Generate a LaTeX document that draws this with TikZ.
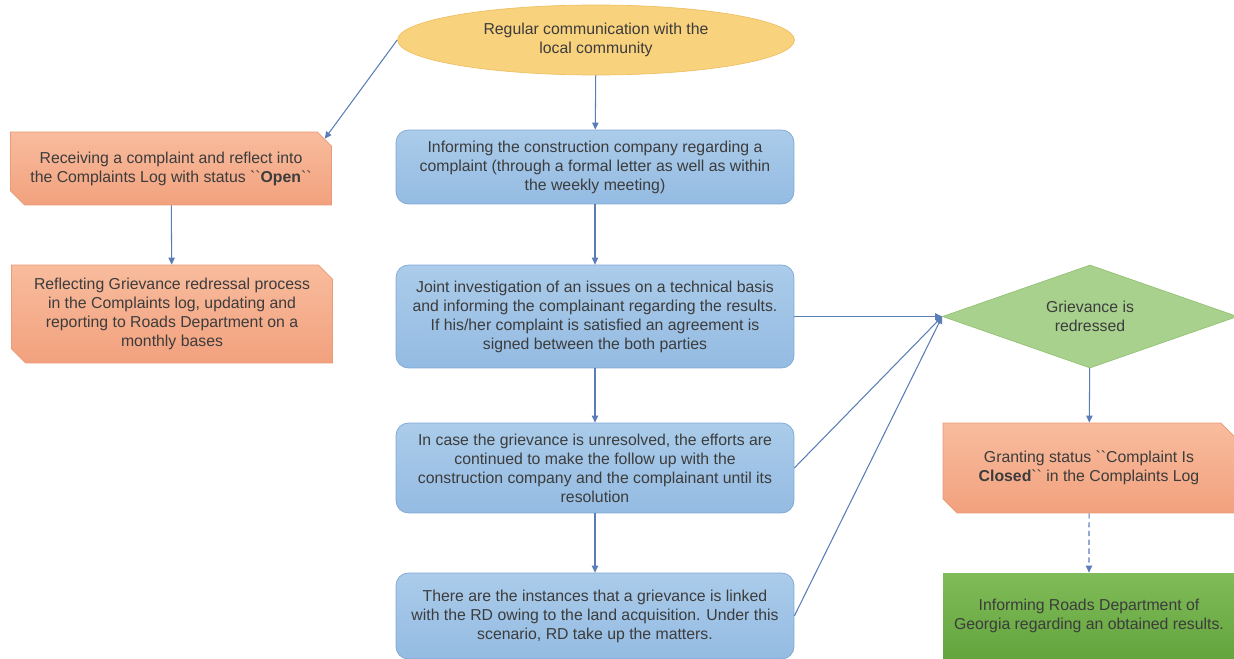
\documentclass[tikz,border=0pt]{standalone}
\usepackage{fontspec}
\setmainfont{Liberation Sans}
\usetikzlibrary{shapes.geometric,shapes.misc,arrows.meta}

\definecolor{txtgray}{HTML}{3C3C3C}
\definecolor{linkblue}{HTML}{5A7DB8}
\definecolor{bluetop}{HTML}{ABCCEA}
\definecolor{bluebot}{HTML}{94BBE2}
\definecolor{blueline}{HTML}{7FA6D4}
\definecolor{salmtop}{HTML}{F8BC9D}
\definecolor{salmbot}{HTML}{F2A17E}
\definecolor{salmline}{HTML}{E99A76}
\definecolor{sunfill}{HTML}{F9D27E}
\definecolor{sunline}{HTML}{EEC064}
\definecolor{leaf}{HTML}{A9D18E}
\definecolor{leafline}{HTML}{92C274}
\definecolor{grasstop}{HTML}{80BC58}
\definecolor{grassbot}{HTML}{63A43D}

\tikzset{
  every node/.style={font=\fontsize{9}{10.8}\selectfont,text=txtgray,align=center},
  talk/.style={ellipse,draw=sunline,fill=sunfill,minimum width=7.94cm,minimum height=1.4cm},
  bluebox/.style={rectangle,rounded corners=7pt,draw=blueline,top color=bluetop,bottom color=bluebot,minimum width=7.96cm},
  logbox/.style={chamfered rectangle,chamfered rectangle corners={north east,south west},
    chamfered rectangle xsep=0.14cm,chamfered rectangle ysep=0.14cm,draw=salmline,
    top color=salmtop,bottom color=salmbot},
  check/.style={diamond,draw=leafline,fill=leaf,aspect=2.85,minimum width=5.9cm,minimum height=2.06cm,inner sep=0pt},
  donebox/.style={rectangle,top color=grasstop,bottom color=grassbot,minimum width=5.84cm},
  link/.style={draw=linkblue,line width=0.6pt,-{Triangle[length=4pt,width=3.6pt]}}
}

\begin{document}
\begin{tikzpicture}[x=0.02cm,y=-0.02cm]
  \useasboundingbox (0,0) rectangle (1234,659);
  \node[talk] (comm) at (596,40) {Regular communication with the\\local community};
  \node[bluebox,minimum height=1.48cm] (inform) at (595,167)
    {Informing the construction company regarding a\\complaint (through a formal letter as well as within\\the weekly meeting)};
  \node[bluebox,minimum height=2.06cm] (joint) at (595,316.5)
    {Joint investigation of an issues on a technical basis\\and informing the complainant regarding the results.\\If his/her complaint is satisfied an agreement is\\signed between the both parties};
  \node[bluebox,minimum height=1.8cm] (unres) at (595,468)
    {In case the grievance is unresolved, the efforts are\\continued to make the follow up with the\\construction company and the complainant until its\\resolution};
  \node[bluebox,minimum height=1.72cm] (rdcase) at (595,616)
    {There are the instances that a grievance is linked\\with the RD owing to the land acquisition. Under this\\scenario, RD take up the matters.};
  \node[logbox,minimum width=6.42cm,minimum height=1.46cm] (recv) at (171,168.5)
    {Receiving a complaint and reflect into\\the Complaints Log with status \textasciigrave\textasciigrave\textbf{Open}\textasciigrave\textasciigrave};
  \node[logbox,minimum width=6.42cm,minimum height=1.96cm] (reflect) at (172,314)
    {Reflecting Grievance redressal process\\in the Complaints log, updating and\\reporting to Roads Department on a\\monthly bases};
  \node[check] (redr) at (1090,316.5) {Grievance is\\redressed};
  \node[logbox,minimum width=5.84cm,minimum height=1.8cm] (closed) at (1089,468)
    {Granting status \textasciigrave\textasciigrave Complaint Is\\\textbf{Closed}\textasciigrave\textasciigrave\ in the Complaints Log};
  \node[donebox,minimum height=1.72cm] (georgia) at (1089,616)
    {Informing Roads Department of\\Georgia regarding an obtained results.};

  \draw[link] (comm) -- (inform);
  \draw[link] (inform) -- (joint);
  \draw[link] (joint) -- (unres);
  \draw[link] (unres) -- (rdcase);
  \draw[link] (comm.west) -- (recv.north east);
  \draw[link] (recv) -- (reflect);
  \draw[link] (joint.east) -- (redr.west);
  \draw[link] (unres.east) -- (redr.west);
  \draw[link] (rdcase.east) -- (redr.west);
  \draw[link] (redr) -- (closed);
  \draw[link,dashed,dash pattern=on 3pt off 2pt] (closed) -- (georgia);
\end{tikzpicture}
\end{document}
